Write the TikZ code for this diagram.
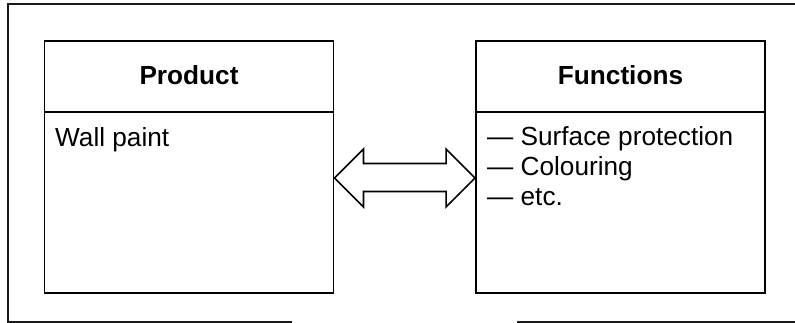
\documentclass[tikz,border=0pt]{standalone}
\usepackage{fontspec}
\setmainfont{Liberation Sans}
\usetikzlibrary{calc}
\begin{document}
\begin{tikzpicture}[x=1pt,y=-1pt,
  box/.style={draw=black, line width=1.9pt, inner sep=0pt, minimum width=289pt, minimum height=252pt},
  head/.style={font=\fontsize{26.2}{30}\selectfont\bfseries, inner sep=0pt, anchor=base},
  body/.style={font=\fontsize{26.2}{30}\selectfont, inner sep=0pt, anchor=base west},
  frame/.style={draw=black!90, line width=1.7pt},
  dblarrow/.style={draw=black, line width=1.6pt, fill=white, line join=miter}]
\useasboundingbox (0,0) rectangle (795,323);
% outer frame
\draw[frame] (8,321.8) -- (8,4.3) -- (795,4.3);
\draw[frame] (7.15,321.8) -- (292,321.8);
\draw[frame] (517,321.8) -- (795,321.8);
% boxes
\node[box] (prod) at (189,167) {};
\node[box] (func) at (620.5,167) {};
\draw[line width=1.9pt] (prod.west |- 0,112) -- (prod.east |- 0,112);
\draw[line width=1.9pt] (func.west |- 0,112) -- (func.east |- 0,112);
% texts
\node[head] (ph) at (189,84.3) {Product};
\node[head] (fh) at (620.5,84.3) {Functions};
\node[body] (wp) at (55,146.5) {Wall paint};
\node[body] (f1) at (487,146) {— Surface protection};
\node[body] (f2) at (487,176) {— Colouring};
\node[body] (f3) at (487,206) {— etc.};
% double arrow between the boxes
\coordinate (la) at (prod.east |- 0,178);
\coordinate (ra) at (func.west |- 0,178);
\draw[dblarrow] (la) -- ++(29,-29) -- ++(0,14.5) -- ($(ra)+(-29,-14.5)$) -- ++(0,-14.5) -- (ra)
  -- ++(-29,29) -- ++(0,-15.5) -- ($(la)+(29,13.5)$) -- ++(0,15.5) -- cycle;
\end{tikzpicture}
\end{document}
